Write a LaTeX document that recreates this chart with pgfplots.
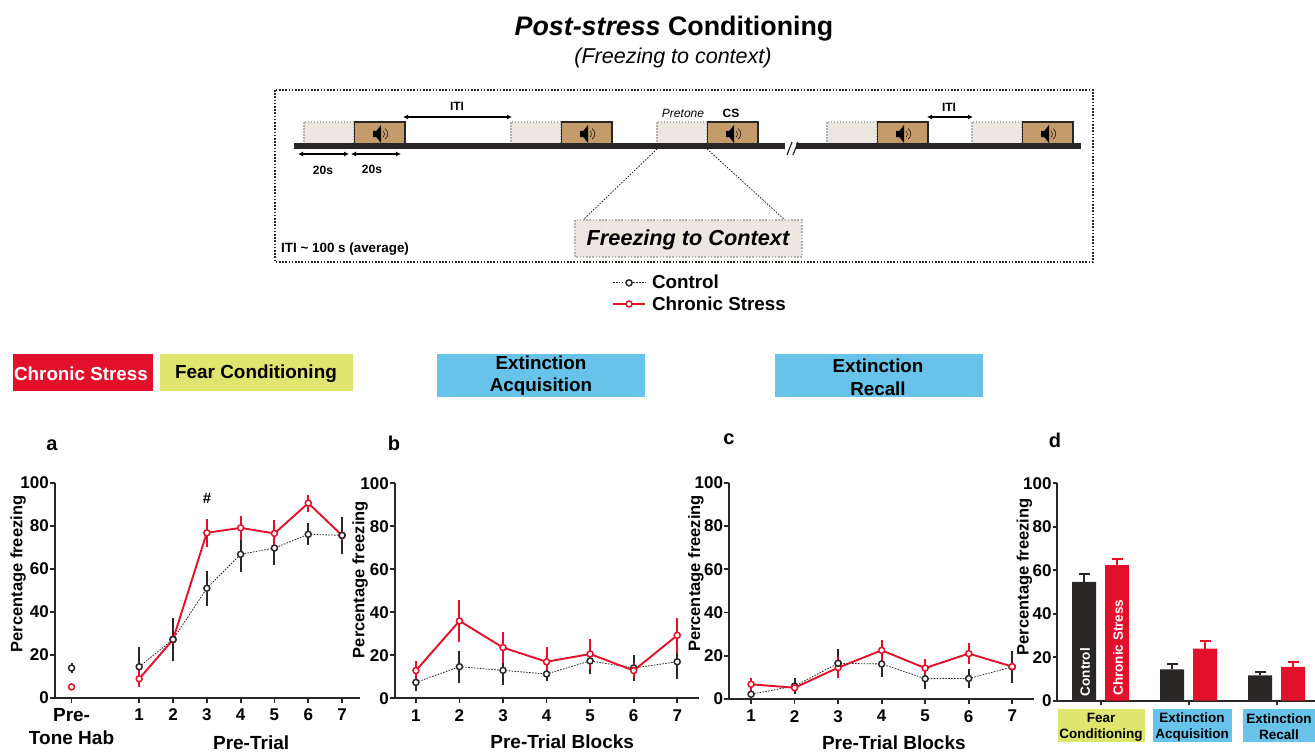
\documentclass[border=0pt]{standalone}
\usepackage{fontspec}
\setmainfont{Liberation Sans}
\usepackage{pgfplots}
\usepackage{pgfplotstable}
\pgfplotsset{compat=1.18}
\usetikzlibrary{arrows.meta}
\definecolor{dk}{HTML}{2B2626}
\definecolor{rd}{HTML}{E2102B}
\definecolor{yg}{HTML}{DFE56F}
\definecolor{bl}{HTML}{67C3E9}
\definecolor{tan}{HTML}{C49B6B}
\definecolor{pt}{HTML}{ECE8E1}
\newcommand\fs[2]{\fontsize{#1}{#2}\selectfont}

\pgfplotstableread{
x y e
1 14.4 9.0
2 27.1 10.0
3 50.9 8.2
4 66.7 8.3
5 69.6 7.7
6 76.0 5.2
7 75.5 8.6
}\actrl
\pgfplotstableread{
x y e
1 8.8 4.0
2 27.0 2.0
3 76.7 6.5
4 79.0 5.6
5 76.4 6.3
6 90.5 4.0
7 75.5 2.0
}\astress
\pgfplotstableread{
x y e
1 7.4 4.0
2 14.7 7.4
3 13.0 6.8
4 11.3 3.2
5 17.4 5.9
6 14.1 6.1
7 17.0 8.0
}\bctrl
\pgfplotstableread{
x y e
1 12.9 4.4
2 36.0 9.6
3 23.6 7.4
4 17.0 6.7
5 20.6 7.0
6 12.9 3.5
7 29.3 8.0
}\bstress
\pgfplotstableread{
x y e
1 2.2 0.5
2 6.0 3.5
3 16.5 6.6
4 16.2 5.9
5 9.4 4.6
6 9.5 4.2
7 14.8 7.3
}\cctrl
\pgfplotstableread{
x y e
1 6.8 3.0
2 5.2 1.5
3 14.5 5.0
4 22.5 4.8
5 14.3 4.2
6 21.0 4.8
7 15.0 1.0
}\cstress
\pgfplotstableread{
x y e
-0.1875 54.7 3.5
0.8125 14.4 2.6
1.8125 11.7 1.7
}\dctrl
\pgfplotstableread{
x y e
0.1875 62.4 2.9
1.1875 23.9 3.7
2.1875 15.6 2.3
}\dstress

\pgfplotsset{
  panel/.style={
    scale only axis, clip=false, axis lines=left,
    ymin=0, ymax=100, ytick={0,20,...,100},
    axis line style={-, line width=1.8pt, color=dk},
    tick style={line width=1.8pt, color=dk},
    major tick length=5pt, tick align=outside,
    tick label style={font=\fs{17}{23}\bfseries, text=black,
      /pgf/number format/assume math mode=true},
    yticklabel style={inner sep=0pt, xshift=-1pt},
    xticklabel style={inner sep=0pt, yshift=-6pt, align=center},
    every axis y label/.style={rotate=90, anchor=center, font=\fs{16.5}{20}\bfseries},
    every axis x label/.style={anchor=center, font=\fs{19}{22}\bfseries},
  },
  ctrl/.style={color=dk, line width=0.8pt, dash pattern=on 1.6pt off 1.3pt,
    mark=*, mark size=3pt,
    mark options={solid, draw=dk, fill=white, line width=1.5pt},
    error bars/y dir=both, error bars/y explicit,
    error bars/error bar style={solid, line width=2pt, color=dk}, error bars/error mark=none},
  stress/.style={color=rd, line width=1.9pt, solid,
    mark=*, mark size=3pt,
    mark options={solid, draw=rd, fill=white, line width=1.5pt},
    error bars/y dir=both, error bars/y explicit,
    error bars/error bar style={solid, line width=2pt, color=rd}, error bars/error mark=none},
}

\begin{document}
\begin{tikzpicture}
\path[use as bounding box] (0pt,0pt) rectangle (1315pt,-752pt);

\begin{scope}[x=1pt,y=-1pt]
% title
\node at (674,29) {\fs{26.8}{30}\bfseries\itshape Post-stress\normalfont\bfseries{} Conditioning};
\node at (673,58) {\fs{21.5}{24}\itshape (Freezing to context)};
% outer dotted box
\draw[line width=1.6pt, dk, dash pattern=on 1.6pt off 1.6pt] (275,90) rectangle (1093,262);
% pretone and CS boxes
\foreach \a in {304,511,657,827,972}{
  \draw[fill=pt, draw=gray!60, line width=1.3pt, dash pattern=on 1.5pt off 1.5pt] (\a,122) rectangle (\a+50,145);
  \draw[fill=tan, draw=dk, line width=1.7pt] (\a+50.5,122) rectangle (\a+101,145);
  \begin{scope}[shift={(\a+76,134)}]
    \fill[black] (-7,-3.2) -- (-3.5,-3.2) -- (1,-9) -- (1,9) -- (-3.5,3.2) -- (-7,3.2) -- cycle;
    \draw[black, line width=0.5pt] (3,-3) arc[start angle=-50, end angle=50, radius=4];
    \draw[black, line width=0.5pt] (5,-5.5) arc[start angle=-55, end angle=55, radius=6.5];
  \end{scope}
}
% timeline
\fill[dk] (294,143) rectangle (785,149);
\fill[dk] (796,143) rectangle (1081,149);
\draw[dk, line width=1.2pt] (787,155) -- (792,142);
\draw[dk, line width=1.2pt] (793,155) -- (798,142);
% arrows
\tikzset{dbl/.style={{Latex[length=5pt,width=5pt]}-{Latex[length=5pt,width=5pt]}, line width=1.3pt, black}}
\draw[dbl] (403,117) -- (512,117);
\draw[dbl] (927,117) -- (973,117);
\draw[dbl] (298,154) -- (349,154);
\draw[dbl] (351,154) -- (401,154);
\node at (457,106) {\fs{12}{14}\bfseries ITI};
\node at (949,107) {\fs{12}{14}\bfseries ITI};
\node at (683,113) {\fs{12}{14}\itshape Pretone};
\node at (731,113) {\fs{12}{14}\bfseries CS};
\node at (323,170) {\fs{12}{14}\bfseries 20s};
\node at (372,169) {\fs{12}{14}\bfseries 20s};
% zoom lines
\draw[black, line width=0.7pt, dash pattern=on 1.5pt off 1.5pt] (657,149) -- (583,220);
\draw[black, line width=0.7pt, dash pattern=on 1.5pt off 1.5pt] (707,149) -- (785,220);
\draw[fill=pt, draw=gray!60, line width=1.5pt, dash pattern=on 1.6pt off 1.6pt] (575,220) rectangle (802,257);
\node at (688,240) {\fs{21.7}{24}\bfseries\itshape Freezing to Context};
\node[anchor=west, inner sep=0pt] at (281,249) {\fs{13.4}{15}\bfseries ITI \textasciitilde{} 100 s (average)};
% stage bands
\fill[rd] (13,354) rectangle (153,391);
\node[text=white] at (81,374) {\fs{18.8}{22}\bfseries Chronic Stress};
\fill[yg] (160,354) rectangle (353,391);
\node at (256,374) {\fs{18.9}{22}\bfseries Fear Conditioning};
\fill[bl] (437,354) rectangle (645,397);
\node[align=center, font=\fs{18.8}{22}\bfseries] at (541,376) {Extinction\\ Acquisition};
\fill[bl] (775,354) rectangle (983,397);
\node[align=center, font=\fs{18.8}{23}\bfseries] at (878,377) {Extinction\\ Recall};
% panel letters
\node at (52,445) {\fs{20}{24}\bfseries a};
\node at (394,443) {\fs{20}{24}\bfseries b};
\node at (729,439) {\fs{20}{24}\bfseries c};
\node at (1055,440) {\fs{20}{24}\bfseries d};
\node at (207,498) {\fs{15}{18}\bfseries \#};
\end{scope}

% panel a
\begin{axis}[panel, at={(55pt,-697.7pt)}, anchor=south west, width=305pt, height=215pt,
  xmin=-1.49, xmax=7.53,
  xtick={-1,1,2,3,4,5,6,7},
  xticklabels={{\fs{19}{23}\bfseries Pre-\\\fs{19}{23}\bfseries Tone Hab},1,2,3,4,5,6,7},
  ylabel={Percentage freezing},
  xlabel={Pre-Trial},
  ylabel style={at={(rel axis cs:-0.121,0.575)}},
  xlabel style={at={(rel axis cs:0.643,-0.21)}},
  legend image code/.code={\draw[mark repeat=2, mark phase=2, #1] plot coordinates {(0pt,0pt) (16pt,0pt) (32pt,0pt)};},
  legend style={at={(axis description cs:1.826,1.975)}, anchor=north west, draw=none, fill=none,
    font=\fs{18.8}{21}\bfseries, row sep=2pt, inner sep=0pt,
    /tikz/every odd column/.append style={column sep=4pt}},
  legend cell align=left,
]
\addplot[ctrl] table[x=x,y=y,y error=e] {\actrl};
\addlegendentry{Control}
\addplot[stress] table[x=x,y=y,y error=e] {\astress};
\addlegendentry{Chronic Stress}
\addplot[ctrl, only marks, forget plot] coordinates {(-1,13.8) +- (0,2.5)};
\addplot[stress, only marks, forget plot] coordinates {(-1,5) +- (0,0)};
\addplot[ctrl, only marks, forget plot] coordinates {(2,27.1) (7,75.5)};
\end{axis}

% panel b
\begin{axis}[panel, at={(395pt,-698.3pt)}, anchor=south west, width=304pt, height=215pt,
  xmin=0.52, xmax=7.5, xtick={1,...,7},
  ylabel={Percentage freezing},
  xlabel={Pre-Trial Blocks},
  ylabel style={at={(rel axis cs:-0.115,0.552)}},
  xlabel style={at={(rel axis cs:0.55,-0.2)}},
]
\addplot[ctrl] table[x=x,y=y,y error=e] {\bctrl};
\addplot[stress] table[x=x,y=y,y error=e] {\bstress};
\end{axis}

% panel c
\begin{axis}[panel, at={(729.3pt,-699pt)}, anchor=south west, width=304.7pt, height=216.3pt,
  xmin=0.5, xmax=7.5, xtick={1,...,7},
  ylabel={Percentage freezing},
  xlabel={Pre-Trial Blocks},
  ylabel style={at={(rel axis cs:-0.11,0.58)}},
  xlabel style={at={(rel axis cs:0.54,-0.2)}},
]
\addplot[ctrl] table[x=x,y=y,y error=e] {\cctrl};
\addplot[stress] table[x=x,y=y,y error=e] {\cstress};
\addplot[ctrl, only marks, forget plot] coordinates {(3,16.5)};
\end{axis}

% panel d
\begin{axis}[panel, at={(1056.7pt,-700.7pt)}, anchor=south west, width=258.3pt, height=217.4pt,
  xmin=-0.5, xmax=2.435, xtick={0,1,2}, xticklabels={,,},
  major tick length=4pt,
  ylabel={Percentage freezing},
  ylabel style={at={(rel axis cs:-0.125,0.57)}},
]
\addplot[ybar, bar width=24pt, bar shift=0pt, fill=dk, draw=none,
  error bars/.cd, y dir=plus, y explicit,
  error bar style={line width=2pt, color=dk},
  error mark options={rotate=90, mark size=5.5pt, line width=2pt, color=dk}]
  table[x=x,y=y,y error=e] {\dctrl};
\addplot[ybar, bar width=24pt, bar shift=0pt, fill=rd, draw=none,
  error bars/.cd, y dir=plus, y explicit,
  error bar style={line width=2pt, color=rd},
  error mark options={rotate=90, mark size=5.5pt, line width=2pt, color=rd}]
  table[x=x,y=y,y error=e] {\dstress};
\end{axis}

\begin{scope}[x=1pt,y=-1pt]
\node[rotate=90, text=white] at (1085,672) {\fs{13.5}{18}\bfseries Control};
\node[rotate=90, text=white] at (1118,647.5) {\fs{13.5}{18}\bfseries Chronic Stress};
\fill[yg] (1058,709) rectangle (1145,742);
\node[align=center, font=\fs{13.5}{16}\bfseries] at (1101,727) {Fear\\ Conditioning};
\fill[bl] (1153,709) rectangle (1232,742);
\node[align=center, font=\fs{13.5}{16}\bfseries] at (1192,727) {Extinction\\ Acquisition};
\fill[bl] (1243,709) rectangle (1315,742);
\node[align=center, font=\fs{13.5}{16}\bfseries] at (1279,727) {Extinction\\ Recall};
\end{scope}
\end{tikzpicture}
\end{document}
